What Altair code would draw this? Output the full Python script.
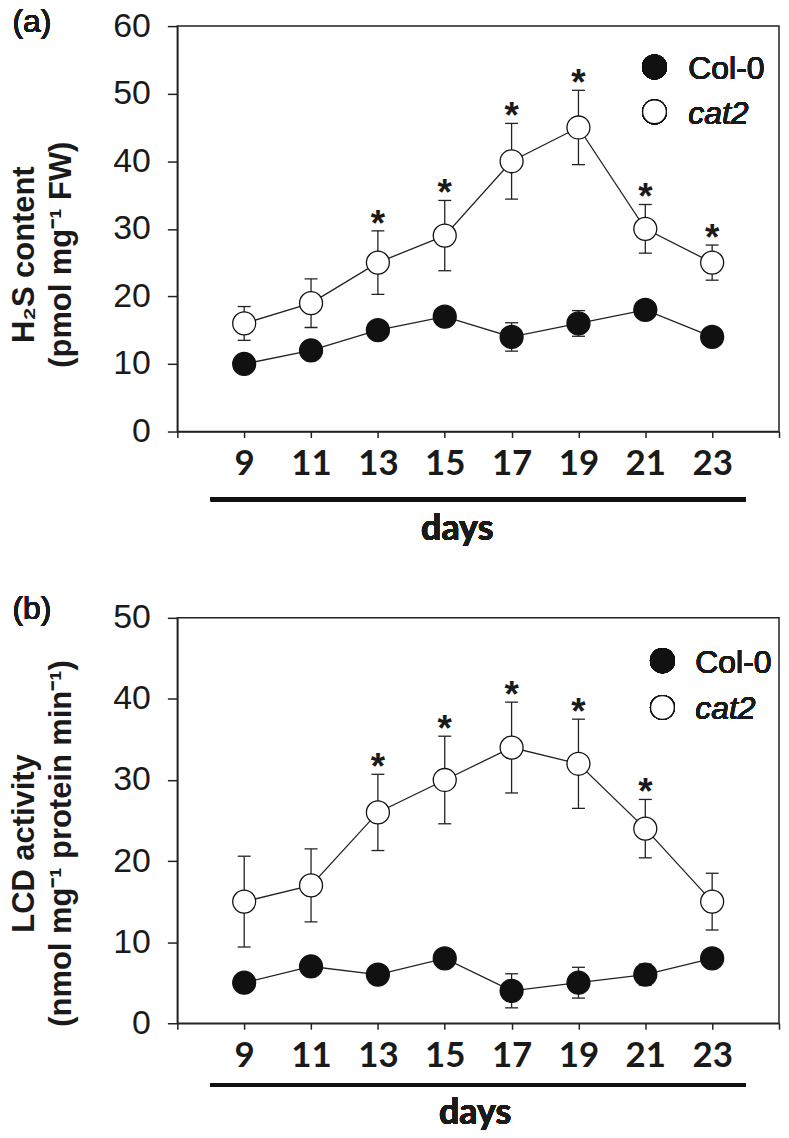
import altair as alt
import pandas as pd

days = [9, 11, 13, 15, 17, 19, 21, 23]
genotypes = ["Col-0", "cat2"]

# Panel (a): H2S content (pmol mg-1 FW)
a_col0 = [10, 12, 15, 17, 14, 16, 18, 14]
a_col0_err = [0.8, 0.9, 1.0, 1.0, 2.1, 1.9, 1.3, 1.0]
a_cat2 = [16, 19, 25, 29, 40, 45, 30, 25]
a_cat2_err = [2.5, 3.6, 4.7, 5.2, 5.6, 5.5, 3.6, 2.6]
a_sig = [False, False, True, True, True, True, True, True]

# Panel (b): LCD activity (nmol mg-1 protein min-1)
b_col0 = [5, 7, 6, 8, 4, 5, 6, 8]
b_col0_err = [0.8, 0.9, 0.8, 0.9, 2.1, 1.9, 1.3, 1.0]
b_cat2 = [15, 17, 26, 30, 34, 32, 24, 15]
b_cat2_err = [5.6, 4.5, 4.7, 5.4, 5.6, 5.5, 3.6, 3.5]
b_sig = [False, False, True, True, True, True, True, False]

x_ticks = [7, 9, 11, 13, 15, 17, 19, 21, 23, 25]
underline_span = [8, 24]

FONT = "Liberation Sans"
XFONT = "Lato"
INK = "#1a1a1a"
W, H = 604, 407


def panel(col0, col0_err, cat2, cat2_err, sig, ymax, ytitle, tag, tag_y,
          leg_x, leg_y, line_y, days_x, days_y, title_y):
    df = pd.DataFrame({
        "day": days * 2,
        "value": col0 + cat2,
        "err": col0_err + cat2_err,
        "genotype": ["Col-0"] * len(days) + ["cat2"] * len(days),
    })
    df["lo"] = df["value"] - df["err"]
    df["hi"] = df["value"] + df["err"]
    sig_df = pd.DataFrame({"day": days, "hi": [v + e for v, e in zip(cat2, cat2_err)], "sig": sig})
    sig_df = sig_df[sig_df["sig"]]

    x = alt.X("day:Q",
              scale=alt.Scale(domain=[7, 25], nice=False, zero=False),
              axis=alt.Axis(values=x_ticks, title=None, grid=False,
                            labelExpr="datum.value == 7 || datum.value == 25 ? '' : datum.label",
                            labelFont=XFONT, labelFontWeight="bold", labelFontSize=35,
                            labelPadding=9, tickSize=6, labelFlush=False))
    y_axis = alt.Axis(values=list(range(0, ymax + 1, 10)), title=ytitle, grid=False,
                      labelFont=FONT, labelFontSize=34, labelPadding=17, tickSize=10,
                      titleFont=FONT, titleFontWeight="bold", titleFontSize=31,
                      titleLineHeight=37, titleX=-137, titleY=title_y, titleColor=INK,
                      titleAngle=270, titleAlign="center", titleBaseline="bottom")
    y = alt.Y("value:Q", scale=alt.Scale(domain=[0, ymax], nice=False), axis=y_axis)

    base = alt.Chart(df)
    lines = base.mark_line(color="#222", strokeWidth=1.3).encode(x=x, y=y, detail="genotype:N")
    bars = base.mark_rule(color="#222", strokeWidth=1.3).encode(
        x="day:Q", y="lo:Q", y2="hi:Q")
    caps_lo = base.mark_tick(orient="horizontal", size=13, thickness=1.3, color="#222", opacity=1).encode(
        x="day:Q", y="lo:Q")
    caps_hi = base.mark_tick(orient="horizontal", size=13, thickness=1.3, color="#222", opacity=1).encode(
        x="day:Q", y="hi:Q")
    pts = base.mark_circle(size=531, stroke="#111", strokeWidth=1.3, opacity=1).encode(
        x="day:Q", y="value:Q",
        fill=alt.Fill("genotype:N", scale=alt.Scale(domain=genotypes, range=["#111", "white"]), legend=None))
    stars = alt.Chart(sig_df).mark_text(text="*", font=FONT, fontWeight="bold", fontSize=37,
                                         baseline="alphabetic", dy=5, color=INK).encode(
        x="day:Q", y="hi:Q")

    under = alt.Chart(df).mark_rule(color="#111", strokeWidth=4).encode(
        x=alt.datum(underline_span[0]), x2=alt.datum(underline_span[1]), y=alt.value(line_y))
    days_lbl = alt.Chart(df).mark_text(text="days", font=XFONT, fontWeight="bold", fontSize=36,
                                       baseline="middle", color=INK).encode(
        x=alt.value(days_x), y=alt.value(days_y))
    tag_txt = alt.Chart(df).mark_text(text=tag, font=FONT, fontSize=32, fontWeight="normal",
                                      baseline="alphabetic", align="center", color=INK).encode(
        x=alt.value(-146), y=alt.value(tag_y))

    leg = []
    for i, (g, fill) in enumerate(zip(genotypes, ["#111", "white"])):
        ly = leg_y[i]
        leg.append(alt.Chart(df).mark_circle(size=570, fill=fill, stroke="#111", strokeWidth=1.3,
                                             opacity=1).encode(
            x=alt.value(leg_x[0]), y=alt.value(ly)))
        leg.append(alt.Chart(df).mark_text(text=g, font=FONT, fontSize=32, align="left",
                                           fontWeight="normal", baseline="middle", color=INK,
                                           fontStyle="italic" if g == "cat2" else "normal").encode(
            x=alt.value(leg_x[1]), y=alt.value(ly + 2)))

    return alt.layer(lines, bars, caps_lo, caps_hi, pts, stars, under, days_lbl, tag_txt, *leg
                     ).properties(width=W, height=H)


top = panel(a_col0, a_col0_err, a_cat2, a_cat2_err, a_sig, 60,
            ["H\u2082S content", "(pmol mg\u207b\u00b9 FW)"], "(a)", 6,
            (479, 513), (41, 86), 475, 281, 505, 229)
bottom = panel(b_col0, b_col0_err, b_cat2, b_cat2_err, b_sig, 50,
               ["LCD activity", "(nmol mg\u207b\u00b9 protein min\u207b\u00b9)"], "(b)", 1,
               (487, 520), (43, 90), 469, 299, 497, 226)

chart = alt.vconcat(top, bottom, spacing=44).properties(
    padding={"top": -5, "left": 0, "right": 0, "bottom": 0}
).configure_view(
    stroke="#222", strokeWidth=1.5
).configure_axis(
    domainColor="#222", domainWidth=1.5, tickColor="#222", tickWidth=1.5, labelColor=INK
)

chart.save("out.html", embed_options={"renderer": "svg", "actions": False})
